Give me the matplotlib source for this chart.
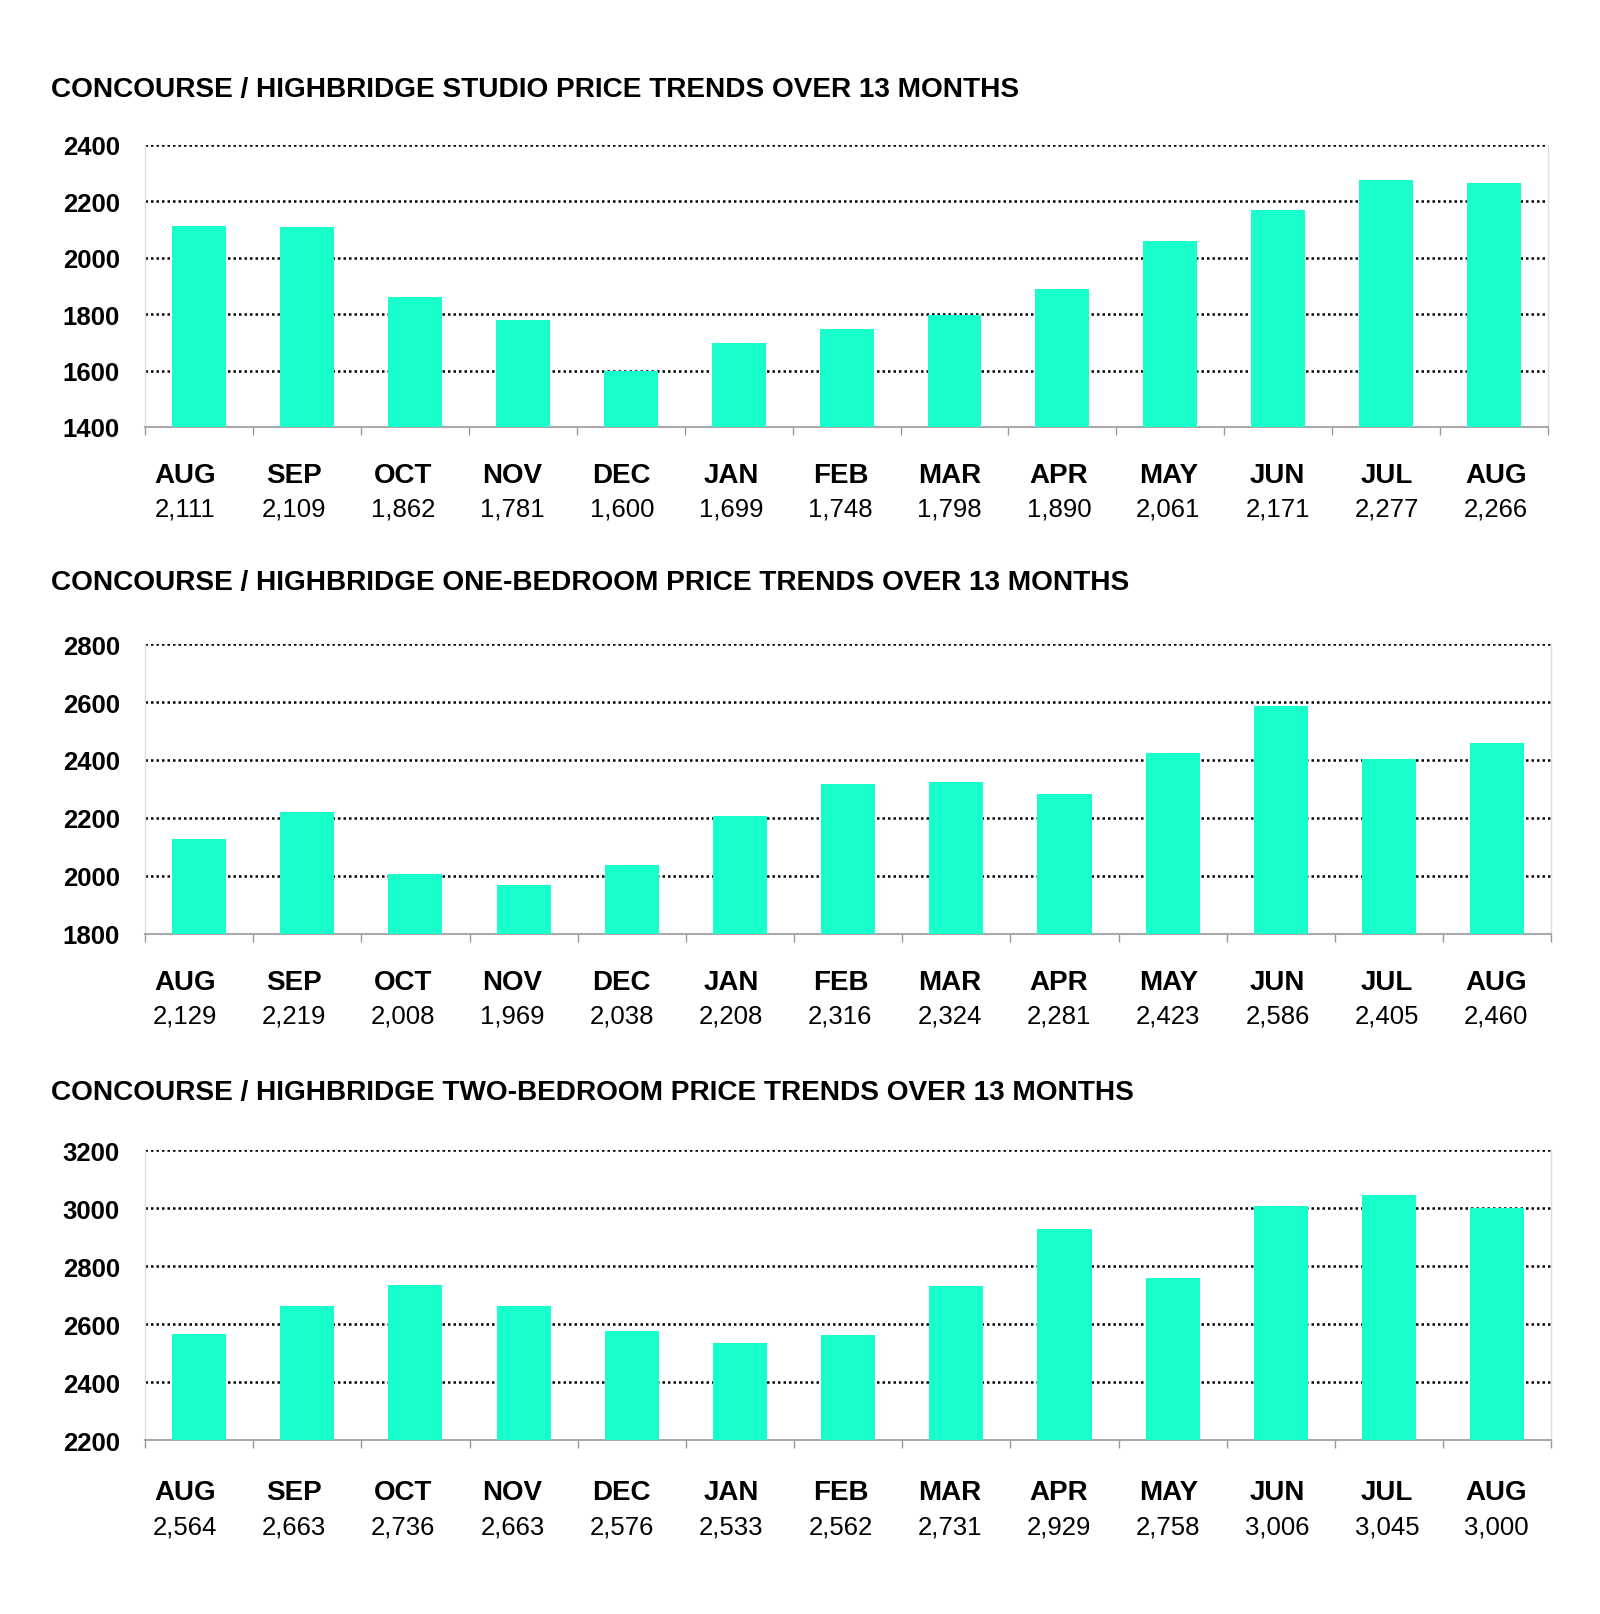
import numpy as np
import matplotlib.pyplot as plt

months = ["AUG", "SEP", "OCT", "NOV", "DEC", "JAN", "FEB", "MAR", "APR", "MAY", "JUN", "JUL", "AUG"]
studio = [2111, 2109, 1862, 1781, 1600, 1699, 1748, 1798, 1890, 2061, 2171, 2277, 2266]
one_bed = [2129, 2219, 2008, 1969, 2038, 2208, 2316, 2324, 2281, 2423, 2586, 2405, 2460]
two_bed = [2564, 2663, 2736, 2663, 2576, 2533, 2562, 2731, 2929, 2758, 3006, 3045, 3000]

titles = [
    "CONCOURSE / HIGHBRIDGE STUDIO PRICE TRENDS OVER 13 MONTHS",
    "CONCOURSE / HIGHBRIDGE ONE-BEDROOM PRICE TRENDS OVER 13 MONTHS",
    "CONCOURSE / HIGHBRIDGE TWO-BEDROOM PRICE TRENDS OVER 13 MONTHS",
]
y_ranges = [(1400, 2400), (1800, 2800), (2200, 3200)]
series = [studio, one_bed, two_bed]

plt.rcParams['font.family'] = ['Liberation Sans', 'DejaVu Sans']

fig = plt.figure(figsize=(16, 16.15), dpi=100)

# axes boxes in figure coords (left, bottom, width, height)
boxes = [
    (0.0906, 0.735, 0.877, 0.1746),
    (0.0906, 0.4211, 0.879, 0.1795),
    (0.0906, 0.1077, 0.879, 0.1796),
]
title_y = [0.944, 0.639, 0.323]
label_drop = [(-48, -82), (-48, -82), (-52, -86)]

# month/value labels sit in a table row under each chart, a bit wider than the bars
label_x = np.linspace(0.1154, 0.9351, len(months))

color = "#19FFCC"
x = np.arange(len(months))

for vals, title, (lo, hi), box, ty, (dm, dv) in zip(series, titles, y_ranges, boxes, title_y, label_drop):
    ax = fig.add_axes(box)
    ax.bar(x, np.array(vals) - lo, bottom=lo, width=0.5, color=color, zorder=3)
    ax.set_xlim(-0.5, len(months) - 0.5)
    ax.set_ylim(lo, hi)
    ticks = np.arange(lo, hi + 1, 200)
    ax.set_yticks(ticks)
    ax.set_yticklabels([str(v) for v in ticks], fontsize=18.5, fontweight="bold")
    ax.tick_params(axis="y", length=0, pad=18)
    ax.yaxis.grid(True, linestyle=(0, (1, 1.2)), color="black", linewidth=1.8, zorder=1)
    ax.set_axisbelow(True)

    # category boundary ticks
    ax.set_xticks(np.arange(-0.5, len(months), 1.0))
    ax.set_xticklabels([])
    ax.tick_params(axis="x", length=6, color="#999999", width=1)

    ax.spines["top"].set_visible(False)
    for s in ["right", "left"]:
        ax.spines[s].set_color("#dddddd")
        ax.spines[s].set_linewidth(1)
    ax.spines["bottom"].set_color("#aaaaaa")
    ax.spines["bottom"].set_linewidth(1.5)

    for lx, m, v in zip(label_x, months, vals):
        ax.annotate(m, xy=(lx, 0), xycoords=("figure fraction", "axes fraction"),
                    xytext=(0, dm), textcoords="offset pixels",
                    ha="center", va="center", fontsize=20, fontweight="bold")
        ax.annotate(f"{v:,}", xy=(lx, 0), xycoords=("figure fraction", "axes fraction"),
                    xytext=(0, dv), textcoords="offset pixels",
                    ha="center", va="center", fontsize=18.5)

    fig.text(0.032, ty, title, fontsize=20.2, fontweight="bold", va="center", ha="left")

fig.savefig("out.png", dpi=100, facecolor="white")
